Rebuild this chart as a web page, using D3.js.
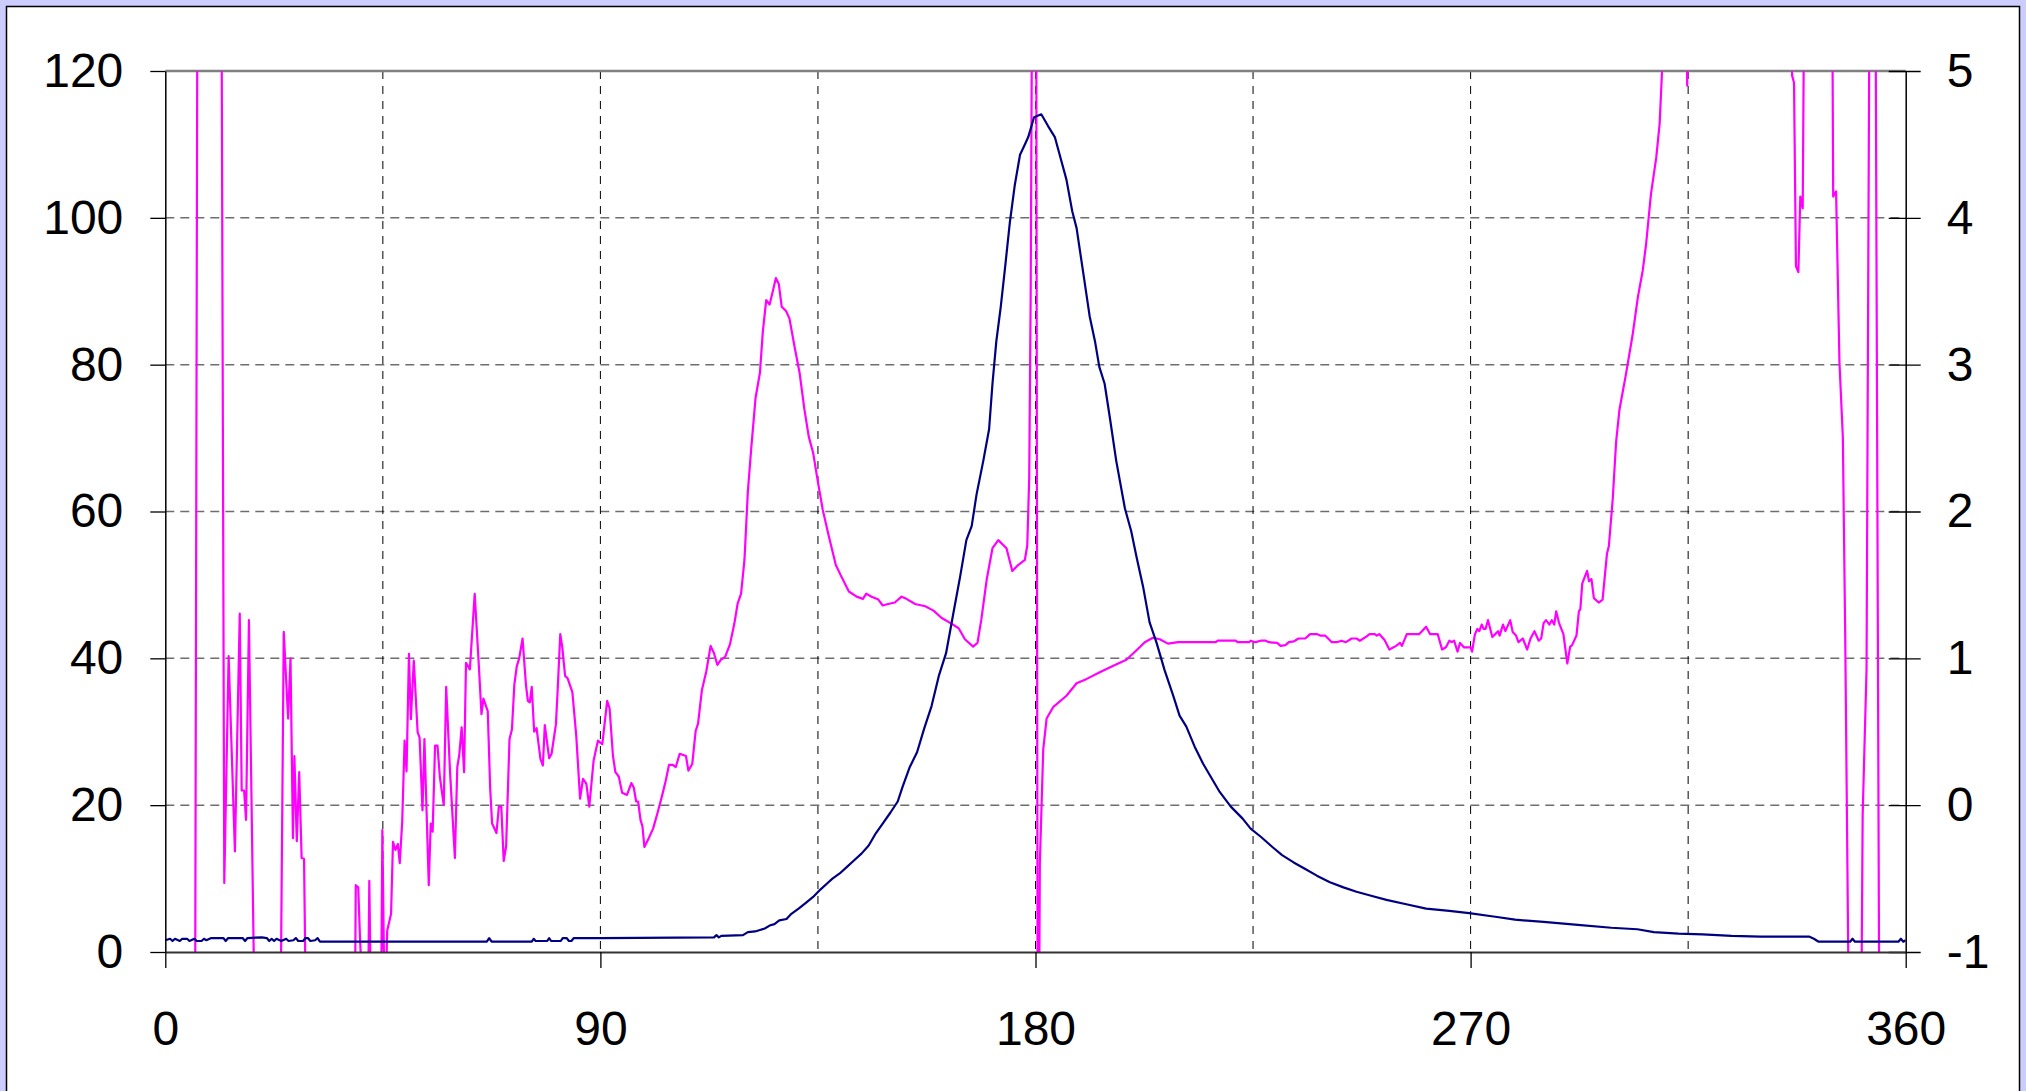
<!DOCTYPE html>
<html>
<head>
<meta charset="utf-8">
<script src="https://cdn.jsdelivr.net/npm/d3@7"></script>
<style>
  body { margin: 0; background: #ccccff; }
  svg { display: block; }
  .tick text { font-family: "Liberation Sans", Arial, sans-serif; font-size: 48px; fill: #000; }
</style>
</head>
<body>
<svg id="chart"></svg>
<script>
// angle (deg) / amplitude pairs, left axis
let navyDeg = [0,1,1.5,2,3,3.5,4.5,5,6,6.5,7.5,8,8.5,9.5,12,12.5,13,16,16.5,17,20,21,21.5,22,22.5,23,24,25,25.5,26.5,27,27.5,28.5,29,29.5,30,31,31.5,32,
  66.5,67,67.5,75.8,76.2,76.6,79,79.4,79.8,81.8,82.2,83,83.5,84,84.5,90,113.5,114,114.5,115,119.5,120.5,122,123,124,125,126,127,128.5,129.5,
  131,132.5,134,135.5,137,138,139.5,141,142.5,144,145.5,147,148.5,150,151.5,152.5,154,155.5,157,158.5,160,161.5,163,164.4,165.7,166.8,167.8,
  169.2,170.4,171.1,171.9,172.8,173.7,174.7,175.7,176.8,177.8,178.5,179.7,181.2,182.6,184,185,186.4,187.6,188.5,189.9,191.2,192.3,193.2,194.3,
  195.4,196.7,198.5,199.8,200.9,202.3,203.6,205,206.7,208.5,209.8,211.2,212.9,214.7,216.4,218.1,220.4,222.8,224.5,226.6,229,231,233.4,235.8,
  238.2,240.9,243.7,246.4,249.8,252.6,256.7,260.8,265.6,269.7,275.1,279.2,285.1,292.2,299.1,304.5,307.9,313,318,324,330,340,341,342,348.5,349,
  349.5,358.5,359,359.5,360]
let navyVal = [1.6,1.8,1.5,1.8,1.5,1.8,1.8,1.5,1.8,1.5,1.5,1.8,1.6,1.9,1.9,1.5,1.9,1.9,1.5,1.9,2.0,1.9,1.5,1.8,1.5,1.8,1.5,1.8,1.5,1.6,1.9,1.5,1.5,1.9,1.9,1.5,1.6,1.9,1.4,
  1.4,1.9,1.4,1.4,1.8,1.5,1.5,1.9,1.5,1.5,1.9,1.9,1.5,1.5,1.9,1.9,2.0,2.3,2.0,2.2,2.3,2.7,2.8,3.0,3.2,3.6,3.8,4.3,4.5,5.2,
  5.9,6.7,7.5,8.5,9.4,10.0,10.7,11.6,12.5,13.4,14.5,16.2,17.6,19.0,20.5,22.5,25.2,27.2,30.5,33.5,37.6,40.7,46.1,51.1,56.1,58,62.3,
  66.9,71.2,77.4,83.2,87.8,93.2,99.4,104.4,108.6,110,111,113.7,114.1,112.5,111,108.6,105.2,100.9,98.6,92.4,86.6,83.2,79.7,77.4,
  72.7,66.9,60.4,57.3,53.8,49.6,44.9,42.2,38.4,34.9,32.2,30.7,28,25.6,23.7,21.8,19.8,18.2,16.8,15.7,14.3,13.2,12.2,11.3,
  10.4,9.5,8.8,8.2,7.6,7.1,6.5,5.9,5.6,5.3,4.8,4.4,4.1,3.7,3.3,3.1,2.7,2.5,2.4,2.2,2.1,2.1,1.8,1.4,1.4,1.8,
  1.4,1.4,1.8,1.4,1.6]

// phase curve, right axis (values beyond -1..5 run off the plot)
let magDeg = [0,6,6.8,11.4,12.2,13.1,14.4,15.4,15.8,16.3,16.7,17.3,18.5,23.7,24.5,25.4,25.9,26.4,26.7,27.2,27.7,28.2,28.7,29.3,
  39.1,39.4,39.9,40.3,41.1,41.9,42.2,42.8,44.5,44.9,45.4,45.9,46.7,47.1,47.6,48.1,48.5,49,49.5,49.9,50.4,50.8,51.4,52.2,52.6,53.2,53.6,
  54.5,54.9,55.3,55.8,56.3,56.8,57.6,58.1,58.9,59.9,60.4,60.8,61.3,61.8,62.2,63,64,64.9,65.4,65.8,66.7,67.2,67.6,68.5,69,69.5,70,70.5,
  71.2,71.7,72.2,72.7,73.2,73.9,74.6,75,75.4,75.8,76.3,76.8,77.6,78.1,78.5,79.4,79.9,80.8,81.2,81.7,82.1,82.7,83.2,84.2,85,85.8,86.4,
  87.1,87.7,88.6,89.5,90.4,91.4,91.9,92.6,93.1,93.8,94.5,95.5,96.4,96.9,97.4,97.8,98.3,98.7,99.1,100,100.9,101.8,102.8,103.5,104.2,
  104.9,105.6,106.4,107.7,108.2,109,109.7,110.2,111,111.9,112.8,113.5,114.2,114.9,115.8,116.8,117.7,118.4,119.1,119.8,120.5,121.2,
  122.1,123,123.6,124.3,125,125.7,126.3,126.9,127.5,128.4,129.1,130.2,131.2,132.2,133.1,134,135,136,137.3,138.7,139.8,141.4,143,
  144.3,145,146.1,147.5,148.4,149.5,150.9,152.3,153.3,155.1,157.2,158.9,160.6,162.7,164.1,165.4,167.1,168,168.8,169.9,171.1,172.3,
  174,175.2,176.4,177.8,178.3,178.7,179,179.5,180.1,180.5,180.9,181.6,182.3,183.7,186.4,188.5,190.6,193.3,196.1,198.8,200.9,202.6,
  204.3,205.7,207.4,209.5,217.3,217.7,221.4,221.8,224.2,224.5,225.5,226.6,227.6,228.3,230,230.7,231.7,232.4,233.4,234.4,235.8,236.8,
  238.2,238.9,239.9,241.3,242.3,243.3,244.2,245.4,246.4,247.1,248.5,249.1,250.2,250.6,251.1,252.2,253.2,254.6,255.4,255.8,256.8,
  259.4,260.8,261.6,263.2,264.1,264.9,265.6,266.1,266.6,267.3,267.8,268.6,270,270.3,270.9,271.4,271.8,272.3,272.7,273.1,273.6,
  274.5,275.1,275.7,276,276.7,277.2,278.2,278.7,279.4,279.9,280.8,281.7,282.4,283.2,284.1,284.6,285.1,285.6,286.3,286.8,287.3,
  287.7,288.3,289.2,290,290.6,291,291.9,292.4,292.7,293.1,294.1,294.5,295,295.5,296.5,297.3,298.2,298.6,299.4,300.1,300.8,302,
  302.5,303.5,304.6,305.6,306.3,307.3,308.4,309.1,309.6,310.2,314.5,314.8,315.1,336,336.5,336.9,337.3,337.8,338.2,338.7,339.3,
  344.6,345,345.6,346.3,347,347.5,348.4,350.7,351.1,351.9,352.7,353.6,354.7,360]
let magVal = [-4,-4,8,8,-0.53,1.015,-0.315,1.305,0.1,0.1,-0.1,1.26,-1.5,-2,1.18,0.59,1.0,-0.225,0.335,-0.245,0.225,-0.36,-0.365,-2,
  -2,-0.545,-0.56,-0.925,-1.5,-1.5,-0.515,-2,-2,-0.17,-1.5,-0.855,-0.74,-0.25,-0.305,-0.265,-0.395,-0.115,0.44,0.23,1.03,0.585,0.985,0.495,0.46,-0.035,0.45,
  -0.545,-0.125,-0.18,0.405,0.405,0.19,0,0.805,0.225,-0.36,0.26,0.34,0.53,0.225,0.97,0.925,1.44,0.925,0.62,0.725,0.64,0.115,-0.125,-0.19,-0.01,-0.01,-0.38,-0.28,
  0.45,0.515,0.82,0.945,1.0,1.135,0.82,0.71,0.7,0.805,0.5,0.525,0.315,0.27,0.545,0.32,0.35,0.55,0.81,1.165,1.08,0.88,0.865,0.77,0.475,0.045,0.18,
  0.145,-0.01,0.305,0.44,0.415,0.71,0.66,0.335,0.225,0.195,0.085,0.07,0.15,0.12,0.025,0.025,-0.1,-0.145,-0.285,-0.225,-0.16,-0.055,0.07,0.165,0.275,
  0.275,0.26,0.35,0.335,0.235,0.28,0.505,0.555,0.785,0.91,1.085,1.035,0.955,0.99,1.01,1.095,1.235,1.375,1.44,1.67,2.135,2.43,
  2.775,2.945,3.225,3.44,3.41,3.505,3.59,3.55,3.395,3.365,3.315,3.115,2.945,2.695,2.51,2.4,2.2,2.01,1.825,1.635,1.56,1.455,1.42,
  1.405,1.44,1.42,1.4,1.36,1.37,1.38,1.42,1.405,1.37,1.355,1.325,1.275,1.235,1.205,1.13,1.08,1.105,1.265,1.535,1.75,1.805,
  1.75,1.595,1.635,1.67,1.77,2.23,3.465,7,7,-3,-0.395,0.38,0.59,0.67,0.745,0.83,0.86,0.905,0.95,0.99,1.055,1.11,
  1.14,1.13,1.1,1.11,1.11,1.12,1.12,1.11,1.11,1.12,1.11,1.12,1.12,1.11,1.105,1.085,1.09,1.11,1.115,1.135,1.135,1.165,
  1.165,1.155,1.155,1.11,1.11,1.12,1.11,1.135,1.135,1.12,1.15,1.165,1.165,1.155,1.165,1.125,1.06,1.085,1.105,1.085,1.165,
  1.165,1.215,1.165,1.165,1.06,1.075,1.12,1.11,1.12,1.045,1.105,1.075,1.075,1.045,1.165,1.2,1.185,1.23,1.2,1.2,1.26,
  1.145,1.165,1.185,1.155,1.23,1.185,1.26,1.18,1.155,1.11,1.135,1.06,1.135,1.185,1.12,1.135,1.24,1.26,1.23,1.26,1.23,
  1.32,1.24,1.165,0.965,1.08,1.09,1.155,1.32,1.335,1.51,1.595,1.525,1.54,1.41,1.38,1.4,1.71,1.765,2.085,2.475,2.695,2.91,
  3.005,3.2,3.46,3.64,3.82,4.16,4.41,4.64,5.0,7,7,4.9,7,7,4.97,4.92,3.67,3.63,4.145,4.065,7,
  7,4.145,4.18,3.015,2.505,1.12,-2,-2,-0.065,0.925,7,7,-3,-3]

let leftTicks = [0,20,40,60,80,100,120]
let rightTicks = [-1,0,1,2,3,4,5]
let xTicks = [0,90,180,270,360]
let xGrid = [45,90,135,180,225,270,315]
let yGrid = [20,40,60,80,100]

if (navyDeg.length !== navyVal.length) console.error('navy', navyDeg.length, navyVal.length)
if (magDeg.length !== magVal.length) console.error('mag', magDeg.length, magVal.length)

let width = 2026
let height = 1091
let plotLeft = 165.3, plotRight = 1905.7, plotTop = 71, plotBottom = 952

let svg = d3.select('#chart').attr('width', width).attr('height', height)

// white panel
svg.append('rect')
    .attr('x', 6.5).attr('y', 6.5)
    .attr('width', 2013).attr('height', 1100)
    .attr('fill', '#fff').attr('stroke', '#000').attr('stroke-width', 1.5)

let xScale = d3.scaleLinear().domain([0, 360]).range([plotLeft, plotRight])
let yLeft = d3.scaleLinear().domain([0, 120]).range([plotBottom, plotTop])
let yRight = d3.scaleLinear().domain([-1, 5]).range([plotBottom, plotTop])

// grid
svg.append('g').selectAll('line')
    .data(yGrid).enter().append('line')
    .attr('x1', plotLeft).attr('x2', plotRight)
    .attr('y1', d => yLeft(d)).attr('y2', d => yLeft(d))
    .attr('stroke', '#6e6e6e').attr('stroke-width', 1.5)
    .attr('stroke-dasharray', '9,6')

svg.append('g').selectAll('line')
    .data(xGrid).enter().append('line')
    .attr('x1', d => xScale(d)).attr('x2', d => xScale(d))
    .attr('y1', plotTop).attr('y2', plotBottom)
    .attr('stroke', '#000').attr('stroke-width', 1)
    .attr('stroke-dasharray', '8,7')

// top border of plot area
svg.append('line')
    .attr('x1', plotLeft).attr('x2', plotRight).attr('y1', plotTop).attr('y2', plotTop)
    .attr('stroke', '#808080').attr('stroke-width', 2.5)

svg.append('clipPath').attr('id', 'plotclip')
    .append('rect').attr('x', plotLeft).attr('y', plotTop)
    .attr('width', plotRight - plotLeft).attr('height', plotBottom - plotTop)

let navyLine = d3.line()
    .x((d, i) => xScale(navyDeg[i]))
    .y((d, i) => yLeft(navyVal[i]))

let magLine = d3.line()
    .x((d, i) => xScale(magDeg[i]))
    .y((d, i) => yRight(magVal[i]))

let plot = svg.append('g').attr('clip-path', 'url(#plotclip)')

plot.append('path')
    .attr('d', magLine(magVal))
    .attr('fill', 'none').attr('stroke', '#ff00ff').attr('stroke-width', 2.2)
    .attr('stroke-linejoin', 'round')

plot.append('path')
    .attr('d', navyLine(navyVal))
    .attr('fill', 'none').attr('stroke', '#000080').attr('stroke-width', 2.2)
    .attr('stroke-linejoin', 'round')

// axes
let fmt = d => String(d)

let yAxisL = d3.axisLeft(yLeft).tickValues(leftTicks).tickFormat(fmt)
    .tickSizeInner(15).tickSizeOuter(0).tickPadding(27)
let gl = svg.append('g').attr('transform', 'translate(' + plotLeft + ',0)').call(yAxisL)

let yAxisR = d3.axisRight(yRight).tickValues(rightTicks).tickFormat(fmt)
    .tickSizeInner(15).tickSizeOuter(0).tickPadding(26)
let gr = svg.append('g').attr('transform', 'translate(' + plotRight + ',0)').call(yAxisR)
gr.selectAll('.tick line').attr('x1', -17)

let xAxis = d3.axisBottom(xScale).tickValues(xTicks).tickFormat(fmt)
    .tickSizeInner(16).tickSizeOuter(0).tickPadding(43)
let gx = svg.append('g').attr('transform', 'translate(0,' + plotBottom + ')').call(xAxis)

svg.selectAll('.domain').attr('stroke', '#000').attr('stroke-width', 1.5)
svg.selectAll('.tick line').attr('stroke', '#000').attr('stroke-width', 1.3)
svg.selectAll('.tick text').attr('font-family', null).attr('font-size', null)
gx.select('.domain').attr('stroke', '#333').attr('stroke-width', 2)
</script>
</body>
</html>
